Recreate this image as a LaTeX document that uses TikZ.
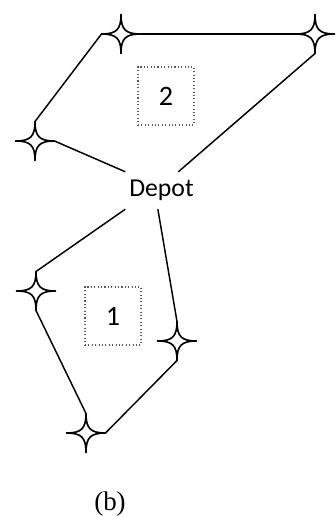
\documentclass[tikz,border=0pt]{standalone}
\usepackage{fontspec}
\setmainfont{Liberation Serif}
\newfontfamily\labelfont{Carlito}
\usetikzlibrary{positioning}
\tikzset{
  sparkle/.style={draw=black, line width=1.4pt, line join=round, fill=white},
  customer/.style={minimum size=1.17cm, inner sep=0pt, outer sep=0pt,
    append after command={\pgfextra{
      \draw[sparkle, shift={(\tikzlastnode.center)}]
        (0,19.5) .. controls (0,4.5) and (-4.5,0) .. (-19.5,0)
        .. controls (-4.5,0) and (0,-4.5) .. (0,-19.5)
        .. controls (0,-4.5) and (4.5,0) .. (19.5,0)
        .. controls (4.5,0) and (0,4.5) .. cycle;}}},
  route/.style={draw=black, line width=1.25pt},
  tourbox/.style={draw=black!65, dotted, line width=0.9pt, minimum width=1.68cm,
    minimum height=1.74cm, inner sep=0pt, font=\labelfont\fontsize{24}{28}\selectfont},
  depotnode/.style={minimum width=2.16cm, minimum height=1.11cm, inner sep=0pt,
    font=\labelfont\fontsize{22}{26}\selectfont}
}
\begin{document}
\begin{tikzpicture}[x=0.3mm, y=-0.3mm]
  \useasboundingbox (0,0) rectangle (335,517);

  \node[depotnode] (depot) at (161.5,190.5) {Depot};

  % tour 2, above the depot
  \node[customer] (a) at (121,34) {};
  \node[customer] (b) at (315,34) {};
  \node[customer] (c) at (35,141) {};
  \node[tourbox] (t2) at (166,96) {2};

  % tour 1, below the depot
  \node[customer] (d) at (36,291) {};
  \node[customer] (e) at (177,341) {};
  \node[customer] (f) at (86,433) {};
  \node[tourbox] (t1) at (113,316) {1};

  \draw[route] (depot.north west) -- (c.east);
  \draw[route] (c.north) -- (a.west);
  \draw[route] (a.east) -- (b.west);
  \draw[route] (b.south) -- (depot.48);

  \draw[route] (depot.south west) -- (d.north);
  \draw[route] (d.south) -- (f.north);
  \draw[route] (f.east) -- (e.south);
  \draw[route] (e.north) -- (depot.259);

  \node[font=\fontsize{23}{27}\selectfont] (caption) at (110,504) {(b)};
\end{tikzpicture}
\end{document}
